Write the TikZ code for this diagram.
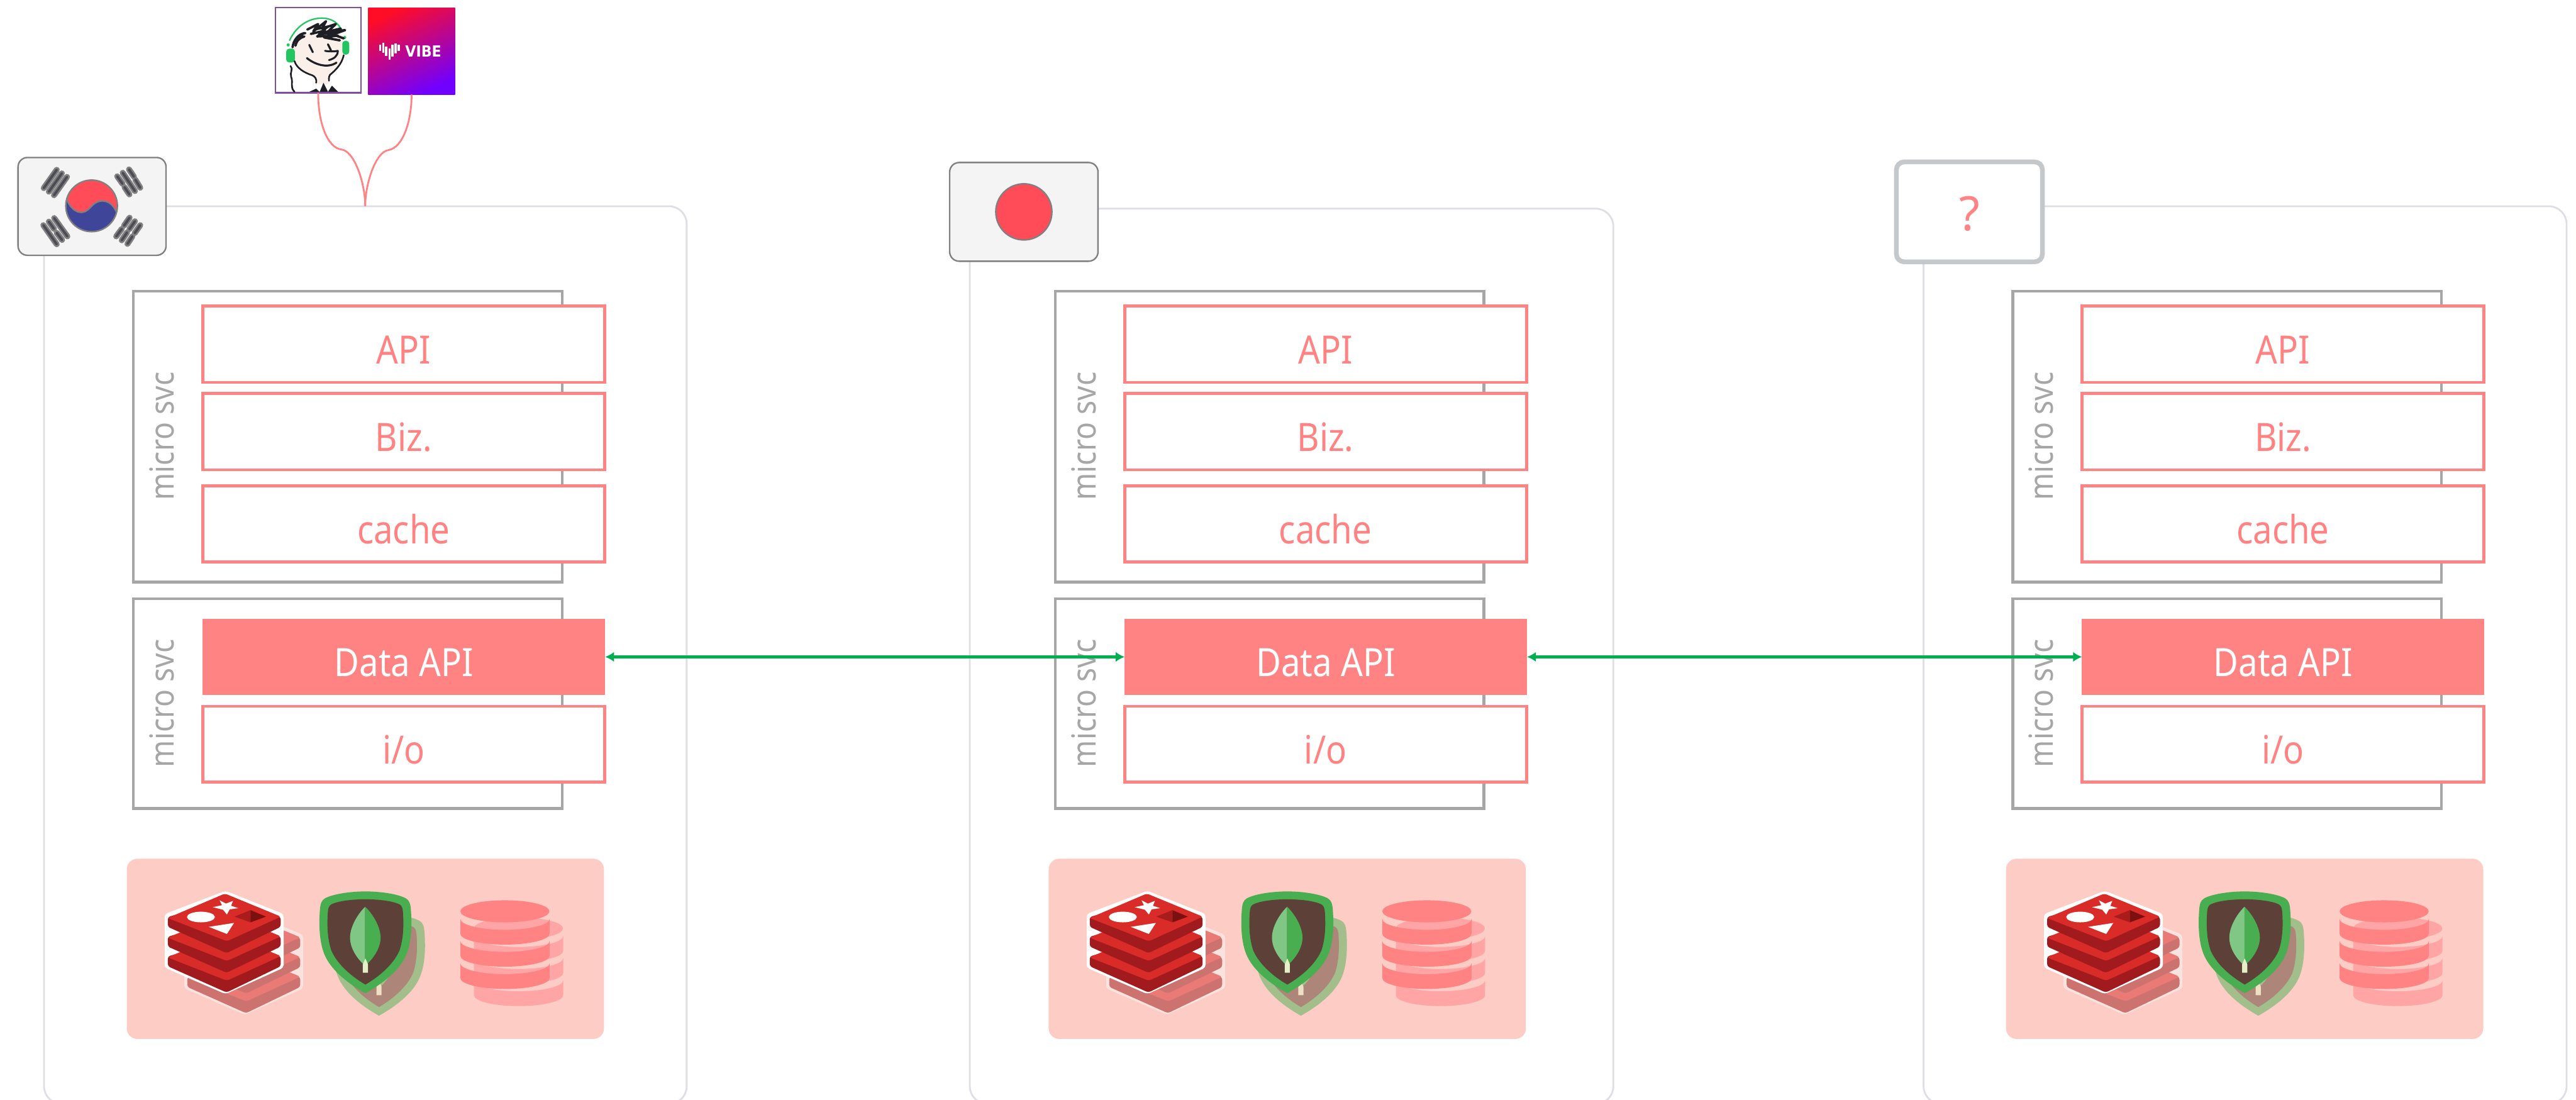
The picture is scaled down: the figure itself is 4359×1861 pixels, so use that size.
\documentclass[tikz,border=0pt]{standalone}
\usepackage{fontspec}
\setmainfont{Noto Sans}[FakeStretch=0.88]
\newfontfamily\plainfont{Noto Sans}
\newfontfamily\vibefont{DejaVu Sans}[FakeStretch=0.91]
\usetikzlibrary{arrows.meta}
\definecolor{salmon}{HTML}{FF8383}
\definecolor{greyline}{HTML}{A6A6A6}
\definecolor{frameline}{HTML}{DEDEE4}
\definecolor{panelpink}{HTML}{FDCCC4}
\definecolor{linkgreen}{HTML}{00B050}
\definecolor{flagbg}{HTML}{F4F4F4}
\definecolor{flagedge}{HTML}{808080}
\definecolor{flagred}{HTML}{FF4C58}
\definecolor{flagblue}{HTML}{3F4699}
\definecolor{flagdark}{HTML}{4C4C55}
\definecolor{qedge}{HTML}{C4C8CB}
\definecolor{purpleedge}{HTML}{7F4BA3}
\definecolor{skin}{HTML}{FAF0E9}
\definecolor{inkblack}{HTML}{1D1F24}
\definecolor{phones}{HTML}{21C661}
\definecolor{redisA}{HTML}{D92B27}
\definecolor{redisB}{HTML}{A01A1E}
\definecolor{redisC}{HTML}{A81C1C}
\definecolor{redisD}{HTML}{7A1010}
\definecolor{ghostA}{HTML}{EA7A75}
\definecolor{ghostB}{HTML}{CC726F}
\definecolor{ghostR}{HTML}{FAE3DE}
\definecolor{mgOuter}{HTML}{49AE4F}
\definecolor{mgInner}{HTML}{5D4037}
\definecolor{mgLeafL}{HTML}{80C684}
\definecolor{mgStem}{HTML}{E3F0C8}
\definecolor{gmOuter}{HTML}{A2BE8A}
\definecolor{gmInner}{HTML}{AE8579}
\definecolor{gmLeaf}{HTML}{A8BC8C}
\definecolor{gmStem}{HTML}{EEE0C4}
\definecolor{dbMain}{HTML}{FF8383}
\definecolor{dbGhost}{HTML}{FFA5A5}
\tikzset{
  zoomed/.style={x=0.33333pt,y=-0.33333pt},
  container/.style={draw=frameline,line width=3pt,rounded corners=30pt},
  svcframe/.style={rectangle,draw=greyline,fill=white,line width=4.5pt,inner sep=0pt,outer sep=0pt},
  layerbox/.style={rectangle,draw=salmon,fill=white,line width=5pt,inner sep=0pt,outer sep=0pt,
    text=salmon,font=\fontsize{66}{70}\selectfont,text height=66pt,text depth=0pt,align=center},
  databox/.style={rectangle,fill=salmon,inner sep=0pt,outer sep=0pt,
    text=white,font=\fontsize{66}{70}\selectfont,text height=66pt,text depth=0pt,align=center},
  svclabel/.style={rotate=90,anchor=base,text=greyline,inner sep=0pt,font=\fontsize{56}{60}\selectfont},
  panelbox/.style={rectangle,fill=panelpink,rounded corners=18pt,inner sep=0pt,outer sep=0pt},
  flagbox/.style={rectangle,draw=flagedge,fill=flagbg,line width=2.5pt,rounded corners=16pt,inner sep=0pt,outer sep=0pt},
  qbox/.style={rectangle,draw=qedge,fill=white,line width=8pt,rounded corners=13pt,inner sep=0pt,outer sep=0pt,
    text=salmon,font=\plainfont\fontsize{80}{84}\selectfont,text height=63pt,text depth=0pt},
  link/.style={draw=linkgreen,line width=4.5pt,{Latex[length=15pt,width=17pt]}-{Latex[length=15pt,width=17pt]}},
  feed/.style={draw=salmon,line width=3pt},
  ink/.style={draw=inkblack,line width=2.8pt,line cap=round,line join=round},
  hairstroke/.style={draw=inkblack,line width=4pt,line cap=round,line join=round},
  barout/.style={draw=flagedge,line width=10pt,line cap=round},
  barin/.style={draw=flagdark,line width=4.2pt,line cap=round},
}
\newcommand{\cornernode}[6]{%
  \node[#1,minimum width={(#5-#3)*1pt},minimum height={(#6-#4)*1pt}] (#2) at ({(#3+#5)/2},{(#4+#6)/2}) {\ignorespaces};}
\newcommand{\textnode}[7]{%
  \node[#1,minimum width={(#5-#3)*1pt},minimum height={(#6-#4)*1pt}] (#2) at ({(#3+#5)/2},{(#4+#6)/2}) {#7};}
\newcommand{\redisicon}[3]{%
  \fill[#1,rounded corners=5pt] (365,52)--(660,170)--(660,442)--(365,576)--(56,442)--(56,170)--cycle;
  \foreach \d in {200,100,0}{%
    \fill[#3,rounded corners=4pt] (72,{185+\d})--(72,{235+\d})--(370,{368+\d})--(645,{235+\d})--(645,{185+\d})--(370,{100+\d})--cycle;
    \fill[#2,rounded corners=4pt] (362,{66+\d})--(646,{183+\d})--(372,{308+\d})--(71,{190+\d})--cycle;
  }}
\newcommand{\redismarks}{%
  \fill[white] (335,100)--(367,117)--(403,103)--(393,128)--(430,140)--(386,146)--(372,172)--(352,148)--(300,135)--(347,125)--cycle;
  \fill[white] (240,185) ellipse [x radius=71,y radius=27];
  \fill[white] (280,235)--(408,215)--(372,271)--cycle;
  \fill[redisC] (410,183)--(492,150)--(492,212)--cycle;
  \fill[redisD] (492,150)--(570,183)--(492,212)--cycle;}
\newcommand{\mongoicon}[5]{%
  \fill[#1] (1075,55) .. controls (1150,55) and (1240,68) .. (1280,90) .. controls (1298,100) and (1304,118) .. (1306,150) .. controls (1312,230) and (1308,310) .. (1285,370) .. controls (1250,460) and (1150,530) .. (1075,572) .. controls (1000,530) and (900,460) .. (865,370) .. controls (842,310) and (838,230) .. (844,150) .. controls (846,118) and (852,100) .. (870,90) .. controls (910,68) and (1000,55) .. (1075,55) -- cycle;
  \fill[#2] (1075,95) .. controls (1140,95) and (1215,103) .. (1250,122) .. controls (1262,130) and (1265,145) .. (1266,165) .. controls (1270,230) and (1268,295) .. (1248,355) .. controls (1215,430) and (1140,490) .. (1075,528) .. controls (1010,490) and (935,430) .. (902,355) .. controls (882,295) and (880,230) .. (884,165) .. controls (885,145) and (888,130) .. (900,122) .. controls (935,103) and (1010,95) .. (1075,95) -- cycle;
  \fill[#3] (1074,133) .. controls (1035,170) and (997,235) .. (997,290) .. controls (997,345) and (1035,400) .. (1074,432) -- cycle;
  \fill[#4] (1074,133) .. controls (1113,170) and (1152,235) .. (1152,290) .. controls (1152,345) and (1112,400) .. (1074,432) -- cycle;
  \fill[#5] (1062,468)--(1062,425)--(1075,395)--(1088,425)--(1088,468)--cycle;}
\newcommand{\dbband}[2]{%
  \fill[#2] (57,#1) .. controls (57,{#1+30}) and (158,{#1+55}) .. (283,{#1+55}) .. controls (408,{#1+55}) and (510,{#1+30}) .. (510,#1)
    -- (510,{#1+75}) .. controls (510,{#1+105}) and (408,{#1+130}) .. (283,{#1+130}) .. controls (158,{#1+130}) and (57,{#1+105}) .. (57,{#1+75}) -- cycle;}
\newcommand{\dbicon}[1]{%
  \fill[#1] (283,96) ellipse [x radius=226,y radius=56];
  \dbband{135}{#1}\dbband{247}{#1}\dbband{360}{#1}}
\begin{document}
\begin{tikzpicture}[x=1pt,y=-1pt]
\useasboundingbox (0,0) rectangle (4359,1861);
\clip (0,0) rectangle (4359,1861);
\fill[white] (0,0) rectangle (4359,1861);
% region frames
\draw[container] (74.5,349) rectangle (1162,1868);
\draw[container] (1641,353) rectangle (2730,1868);
\draw[container] (3255,349) rectangle (4343,1868);
% three identical stacks
\foreach \g/\off in {a/0,b/1560,c/3180}{%
\begin{scope}[xshift=\off pt]
  \cornernode{svcframe}{upper\g}{226}{493}{951}{985}
  \cornernode{svcframe}{lower\g}{226}{1013}{951}{1368}
  \node[svclabel] (upperlabel\g) at (294,738) {micro svc};
  \node[svclabel] (lowerlabel\g) at (294,1190) {micro svc};
  \textnode{layerbox}{api\g}{343}{518}{1023}{647}{API}
  \textnode{layerbox}{biz\g}{343}{666}{1023}{795}{Biz.}
  \textnode{layerbox}{cache\g}{343}{822}{1023}{951}{cache}
  \textnode{databox}{data\g}{343}{1047}{1024}{1176}{Data API}
  \textnode{layerbox}{io\g}{343}{1195}{1023}{1323}{i/o}
  \cornernode{panelbox}{panel\g}{214.5}{1453}{1022}{1758}
  \begin{scope}[shift={(293,1525)},zoomed]\redisicon{ghostR}{ghostA}{ghostB}\end{scope}
  \begin{scope}[shift={(260,1490)},zoomed]\redisicon{white}{redisA}{redisB}\redismarks\end{scope}
  \begin{scope}[shift={(283,1528)},zoomed]\mongoicon{gmOuter}{gmInner}{gmLeaf}{gmLeaf}{gmStem}\end{scope}
  \begin{scope}[shift={(260,1490)},zoomed]\mongoicon{mgOuter}{mgInner}{mgLeafL}{mgOuter}{mgStem}\end{scope}
  \begin{scope}[shift={(783,1539)},zoomed]\dbicon{dbGhost}\end{scope}
  \begin{scope}[shift={(760,1510)},zoomed]\dbicon{dbMain}\end{scope}
\end{scope}}
% replication links
\draw[link] (dataa.east) -- (datab.west);
\draw[link] (datab.east) -- (datac.west);
% flags
\cornernode{flagbox}{flagkr}{30.5}{266.5}{281}{432}
\begin{scope}[shift={(20,255)},zoomed]
  \begin{scope}
    \clip (405,280) circle [radius=131];
    \fill[flagblue] (405,280) circle [radius=131];
    \fill[flagred] (275,240) .. controls (295,290) and (325,315) .. (355,313) .. controls (400,310) and (405,255) .. (460,255) .. controls (495,255) and (520,280) .. (537,325) -- (560,140) -- (260,140) -- cycle;
    \draw[flagedge,line width=2.5pt] (275,240) .. controls (295,290) and (325,315) .. (355,313) .. controls (400,310) and (405,255) .. (460,255) .. controls (495,255) and (520,280) .. (537,325);
  \end{scope}
  \draw[flagedge,line width=2.5pt] (405,280) circle [radius=131];
  \foreach \ax/\ay/\bx/\by in {162/190/228/97,188/208/254/115,214/226/280/133,
     595/95/620/132,627/147/652/188,563/112/625/205,535/130/562/168,572/185/597/222,
     215/342/282/435,188/360/214/397,228/417/255/453,160/378/228/475,
     652/378/624/418,612/435/587/473,625/358/597/398,585/415/558/455,598/340/570/380,558/397/530/435}{
    \draw[barout] (\ax,\ay) -- (\bx,\by);
  }
  \foreach \ax/\ay/\bx/\by in {162/190/228/97,188/208/254/115,214/226/280/133,
     595/95/620/132,627/147/652/188,563/112/625/205,535/130/562/168,572/185/597/222,
     215/342/282/435,188/360/214/397,228/417/255/453,160/378/228/475,
     652/378/624/418,612/435/587/473,625/358/597/398,585/415/558/455,598/340/570/380,558/397/530/435}{
    \draw[barin] (\ax,\ay) -- (\bx,\by);
  }
\end{scope}
\cornernode{flagbox}{flagjp}{1607}{275}{1858}{442}
\node[circle,draw=flagedge,fill=flagred,line width=2.5pt,minimum size=95pt,inner sep=0pt] (sun) at (flagjp.center) {};
\textnode{qbox}{flagq}{3209}{274}{3456}{443}{?}
% listener and service logos
\cornernode{rectangle,draw=purpleedge,fill=white,line width=2.5pt,inner sep=0pt,outer sep=0pt}{person}{466}{13}{611}{157}
\begin{scope}[shift={(440,0)},zoomed]
  \fill[skin] plot[smooth cycle] coordinates {(235,172)(320,185)(415,180)(425,280)(385,355)(350,385)(350,425)(290,425)(285,390)(190,345)(170,290)(165,240)};
  \draw[phones,line width=2.4pt,line cap=round] (150,205) .. controls (190,120) and (260,90) .. (320,92) .. controls (370,95) and (400,120) .. (415,155);
  \fill[phones] (143,228) circle [radius=8];
  \fill[phones] (430,190) circle [radius=8];
  \fill[phones,rounded corners=5pt] (133,247) rectangle (177,317);
  \fill[phones,rounded corners=5pt] (418,207) rectangle (453,277);
  \draw[ink] (175,310) .. controls (185,345) and (225,370) .. (265,382) .. controls (283,390) and (288,405) .. (285,420);
  \draw[ink] (425,280) .. controls (415,325) and (385,355) .. (355,380) .. controls (348,392) and (350,400) .. (350,410);
  \draw[ink] (155,335) .. controls (170,350) and (150,370) .. (158,390) .. controls (170,420) and (150,440) .. (175,466);
  \fill[inkblack] (250,466)--(285,450)--(302,466)--cycle;
  \fill[inkblack] (303,466)--(322,420)--(345,466)--cycle;
  \fill[inkblack] (345,466)--(365,435)--(396,466)--cycle;
  \draw[hairstroke] (165,240) .. controls (170,205) and (195,170) .. (230,168);
  \draw[hairstroke] (180,232) .. controls (185,205) and (205,190) .. (225,185);
  \draw[hairstroke] (170,220) .. controls (180,195) and (200,180) .. (215,178);
  \draw[hairstroke] (240,150)--(295,122)--(270,160)--(335,108)--(315,145)--(385,122)--(345,160)--(432,153)--(370,175)--(425,195);
  \draw[hairstroke] (258,172)--(330,155)--(290,185)--(395,180)--(325,190)--(405,205);
  \draw[hairstroke] (275,150)--(345,135)--(300,170)--(410,145);
  \draw[hairstroke] (300,175)--(380,165)--(340,185);
  \draw[ink,line width=3.4pt] (250,228) -- (268,265);
  \draw[ink,line width=3.4pt] (345,225) -- (360,255);
  \draw[ink,line width=3.2pt] (330,258) .. controls (350,262) and (380,262) .. (395,258) .. controls (395,285) and (375,298) .. (350,305);
  \draw[ink,line width=3.4pt] (238,295) .. controls (275,325) and (340,350) .. (388,318);
\end{scope}
\node[rectangle,minimum width=147pt,minimum height=147pt,inner sep=0pt,outer sep=0pt,
   shade,shading=axis,top color={rgb,255:red,255;green,12;blue,38},bottom color={rgb,255:red,112;green,0;blue,255},shading angle=25] (vibe) at (696.5,86.5) {};
\begin{scope}[shift={(440,0)},zoomed]
  \fill[white] (605,228) rectangle (616,260);
  \fill[white] (620,218) rectangle (631,268);
  \fill[white] (635,235) rectangle (646,285);
  \fill[white] (652,245) rectangle (663,303);
  \fill[white] (667,228) rectangle (678,287);
  \fill[white] (683,220) rectangle (694,272);
  \fill[white] (699,228) rectangle (710,258);
  \node[anchor=base,inner sep=0pt,text=white,font=\vibefont\bfseries\fontsize{26}{30}\selectfont] (vibeword) at (829,290) {VIBE};
\end{scope}
% feeds joining at the frame top
\coordinate (joinA) at (578,253);
\coordinate (joinB) at (657,254);
\coordinate (junction) at (618,349);
\draw[feed] (person.south) .. controls (538,205) and (553,250) .. (joinA) .. controls (600,256) and (618,310) .. (junction);
\draw[feed] (vibe.south) .. controls (696.5,205) and (682,250) .. (joinB) .. controls (636,257) and (618,310) .. (junction);
\end{tikzpicture}
\end{document}
